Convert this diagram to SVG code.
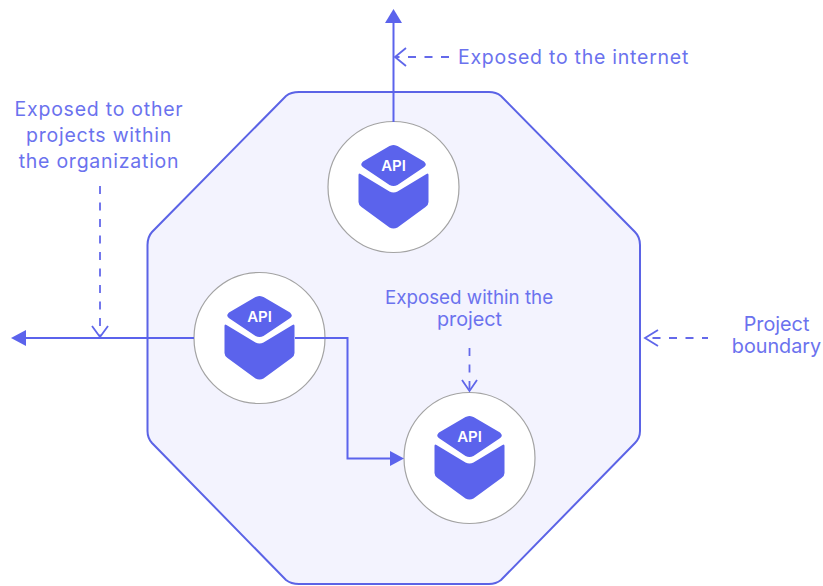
<svg xmlns="http://www.w3.org/2000/svg" width="823" height="586" viewBox="0 0 823 586">
<style>
.lbl{font-family:"Inter","Liberation Sans",sans-serif;font-size:18.800px;fill:#6b72ee;text-anchor:middle}
.wide{font-size:19.500px;letter-spacing:.75px}
.mid{font-size:19.800px}
.api{font-family:"Inter","Liberation Sans",sans-serif;font-size:15px;font-weight:600;fill:#fff;text-anchor:middle}
.wire{fill:none;stroke:#5b63ec;stroke-width:2}
.dash{fill:none;stroke:#6469ea;stroke-width:1.800;stroke-dasharray:8 8.500}
.tip{fill:none;stroke:#5f66ea;stroke-width:1.800}
.disc{fill:#fff;stroke:#a3a3a3;stroke-width:1.200}
.ic{fill:#5b63ec}
</style>
<defs>
<g id="cube">
<circle class="disc" r="65.500"/>
<path class="ic" d="M-4-41L-1.500-41.800Q0-42.200 1.500-41.800L4-41L30.500-25.500Q33-23 32-21.500Q31.500-20.500 30-19.500L4-2Q0 0 -4-2L-30-19.500Q-33-21.500 -32-23.500Q-31.500-24.500 -30.500-25.500Z"/>
<path class="ic" d="M-35-12Q-35-14.500 -33-13L-4 4.500Q0 6.500 4 4.500L33-13Q35-14.500 35-12V15Q35 18 32 20L4 40.500Q0 42.500 -4 40.500L-32 20Q-35 18 -35 15Z"/>
<text class="api" y="-16.300">API</text>
</g>
</defs>
<path id="boundary" d="M147.500 245Q147.500 237 152 232L286 96Q291 92 299 92H489Q496 92 501 96L635 232Q640 237 640 245V431Q640 438 635 443L501 580Q496 584 489 584H299Q291 584 286 580L152 443Q147.500 438 147.500 431Z" fill="#f3f3fe" stroke="#5b63e6" stroke-width="2"/>
<g id="api-top"><use href="#cube" x="393.500" y="187"/></g>
<g id="api-left"><use href="#cube" x="259.500" y="338"/></g>
<g id="api-bottom"><use href="#cube" x="469.500" y="458"/></g>
<g id="connectors">
<path class="wire" d="M393.500 122V22"/>
<path d="M393.500 9L402 23H385Z" fill="#5b63ec"/>
<path class="wire" d="M194 338H24"/>
<path d="M11 338L26 330V346Z" fill="#5b63ec"/>
<path class="wire" d="M295 338H347.500V458.500H392"/>
<path d="M404 458.500L390 451V466Z" fill="#5b63ec"/>
<path class="dash" d="M449 57H396"/>
<path class="tip" d="M406 48L395 57L406 66"/>
<path class="dash" d="M100 186V336"/>
<path class="tip" d="M92 326L100 337L108 326"/>
<path class="dash" d="M469.500 348V391"/>
<path class="tip" d="M462 380L469.500 391L477 380"/>
<path class="dash" style="stroke-dashoffset:2" d="M708 338H648"/>
<path class="tip" d="M658 330L645 338L658 346"/>
</g>
<g id="labels">
<text class="lbl wide" x="573.500" y="63.500">Exposed to the internet</text>
<text class="lbl wide" x="99" y="115.500">Exposed to other</text>
<text class="lbl wide" x="99" y="142">projects within</text>
<text class="lbl wide" x="99" y="168">the organization</text>
<text class="lbl" x="469" y="304">Exposed within the</text>
<text class="lbl mid" x="469.500" y="326">project</text>
<text class="lbl mid" x="776.500" y="331">Project</text>
<text class="lbl mid" x="776.500" y="353">boundary</text>
</g>
</svg>
